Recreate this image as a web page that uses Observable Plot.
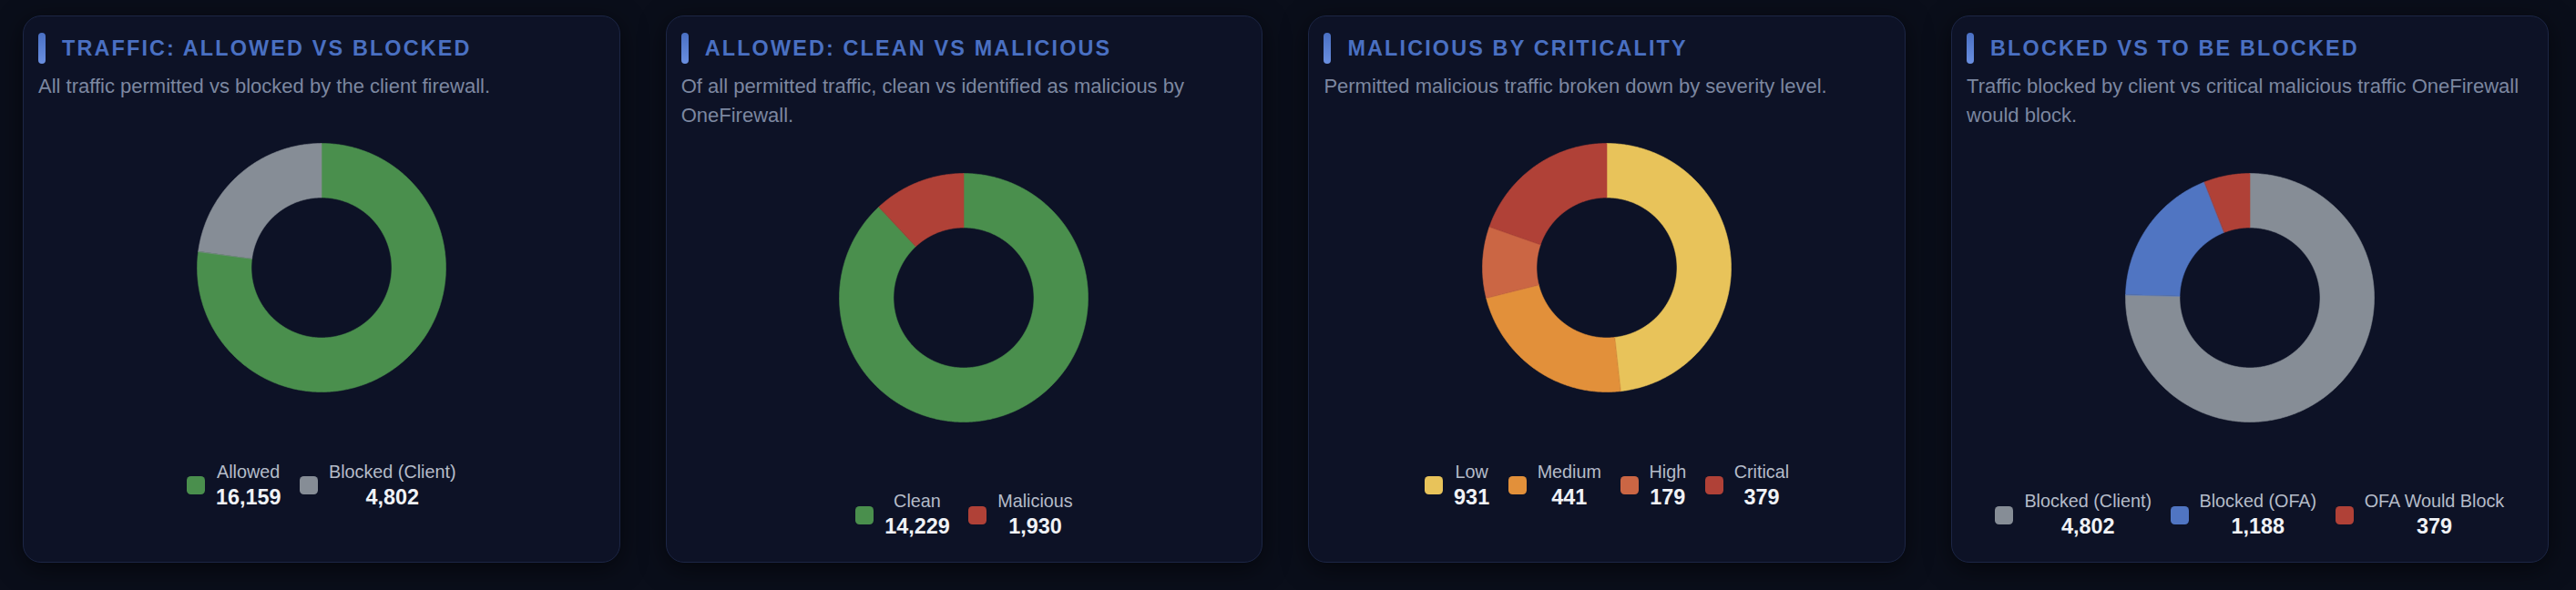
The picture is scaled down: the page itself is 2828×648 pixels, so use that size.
<!DOCTYPE html>
<html>
<head>
<meta charset="utf-8">
<script src="https://cdn.jsdelivr.net/npm/d3@7"></script>
<script src="https://cdn.jsdelivr.net/npm/@observablehq/plot@0.6"></script>
<style>
  html, body { margin: 0; padding: 0; }
  body {
    width: 2828px; height: 648px; overflow: hidden;
    background: #0a0e1a;
    font-family: "Liberation Sans", Arial, Helvetica, sans-serif;
  }
  #grid {
    position: absolute; left: 25px; top: 17px;
    display: grid;
    grid-template-columns: repeat(4, 655.5px);
    column-gap: 50.2px;
  }
  .card {
    box-sizing: border-box;
    height: 601px;
    background: #0d1226;
    border: 1.5px solid #1c2645;
    border-radius: 20px;
    padding: 17.5px 16px 0 16px;
    box-shadow: 0 6px 28px rgba(0,0,0,0.55);
  }
  .head { display: flex; align-items: center; height: 34px; gap: 18px; }
  .bar { width: 8px; height: 34px; border-radius: 4px; background: linear-gradient(180deg, #4a70c4, #6a8fe0); flex: none; }
  .title { font-size: 23.4px; font-weight: 700; letter-spacing: 2.15px; color: #4a70c2; line-height: 34px; white-space: nowrap; }
  .sub { margin-top: 9.4px; font-size: 22px; line-height: 32.4px; color: #7c87a0; }
  .chart { display: flex; justify-content: center; margin-top: 33.2px; }
  .legend { display: flex; justify-content: center; gap: 20.5px; margin-top: 62.6px; }
  .item { display: flex; align-items: center; gap: 12px; }
  .sw { width: 20px; height: 20px; border-radius: 4.5px; flex: none; }
  .txt { text-align: center; }
  .lab { font-size: 19.8px; line-height: 23.8px; color: #b5bcc9; white-space: nowrap; }
  .val { font-size: 23.4px; line-height: 28px; font-weight: 700; color: #f0f2f6; margin-top: 0.8px; }
</style>
</head>
<body>
<div id="grid"></div>
<script>
// ---- data ----
const titles = [
  "TRAFFIC: ALLOWED VS BLOCKED",
  "ALLOWED: CLEAN VS MALICIOUS",
  "MALICIOUS BY CRITICALITY",
  "BLOCKED VS TO BE BLOCKED"
];
const subtitles = [
  "All traffic permitted vs blocked by the client firewall.",
  "Of all permitted traffic, clean vs identified as malicious by OneFirewall.",
  "Permitted malicious traffic broken down by severity level.",
  "Traffic blocked by client vs critical malicious traffic OneFirewall would block."
];
const trafficLabels = ["Allowed", "Blocked (Client)"];
const trafficValues = [16159, 4802];
const trafficColors = ["#4a8f4d", "#868d96"];

const allowedLabels = ["Clean", "Malicious"];
const allowedValues = [14229, 1930];
const allowedColors = ["#4a8f4d", "#b04137"];

const criticalityLabels = ["Low", "Medium", "High", "Critical"];
const criticalityValues = [931, 441, 179, 379];
const criticalityColors = ["#e8c35a", "#e2903a", "#cb6644", "#b04137"];

const blockedLabels = ["Blocked (Client)", "Blocked (OFA)", "OFA Would Block"];
const blockedValues = [4802, 1188, 379];
const blockedColors = ["#868d96", "#5075c2", "#b04137"];

const panels = [
  [trafficLabels, trafficValues, trafficColors],
  [allowedLabels, allowedValues, allowedColors],
  [criticalityLabels, criticalityValues, criticalityColors],
  [blockedLabels, blockedValues, blockedColors]
];

// ---- drawing ----
const SIZE = 300, OUTER = 136.5, INNER = 77;
const fmt = d3.format(",");

function donut(labels, values, colors) {
  const total = d3.sum(values);
  const rows = [];
  let acc = 0;
  labels.forEach((label, i) => {
    const a0 = acc / total * 2 * Math.PI;
    acc += values[i];
    const a1 = acc / total * 2 * Math.PI;
    const n = Math.max(2, Math.ceil((a1 - a0) / (Math.PI / 360)));
    for (let k = 0; k <= n; k++) {
      const a = a0 + (a1 - a0) * k / n;
      rows.push({
        label,
        x1: OUTER * Math.sin(a), y1: OUTER * Math.cos(a),
        x2: INNER * Math.sin(a), y2: INNER * Math.cos(a)
      });
    }
  });
  return Plot.plot({
    width: SIZE, height: SIZE, margin: 0,
    style: { background: "transparent" },
    x: { domain: [-SIZE / 2, SIZE / 2], axis: null },
    y: { domain: [-SIZE / 2, SIZE / 2], axis: null },
    color: { domain: labels, range: colors },
    marks: [
      Plot.area(rows, { x1: "x1", y1: "y1", x2: "x2", y2: "y2", z: "label", fill: "label", stroke: "label", strokeWidth: 0.6 })
    ]
  });
}

const grid = document.getElementById("grid");
panels.forEach(([labels, values, colors], p) => {
  const card = document.createElement("div");
  card.className = "card";
  card.innerHTML = `<div class="head"><div class="bar"></div><div class="title">${titles[p]}</div></div>
    <div class="sub">${subtitles[p]}</div>`;
  const chart = document.createElement("div");
  chart.className = "chart";
  chart.appendChild(donut(labels, values, colors));
  card.appendChild(chart);
  const legend = document.createElement("div");
  legend.className = "legend";
  labels.forEach((l, i) => {
    const it = document.createElement("div");
    it.className = "item";
    it.innerHTML = `<div class="sw" style="background:${colors[i]}"></div><div class="txt"><div class="lab">${l}</div><div class="val">${fmt(values[i])}</div></div>`;
    legend.appendChild(it);
  });
  card.appendChild(legend);
  grid.appendChild(card);
});
</script>
</body>
</html>
